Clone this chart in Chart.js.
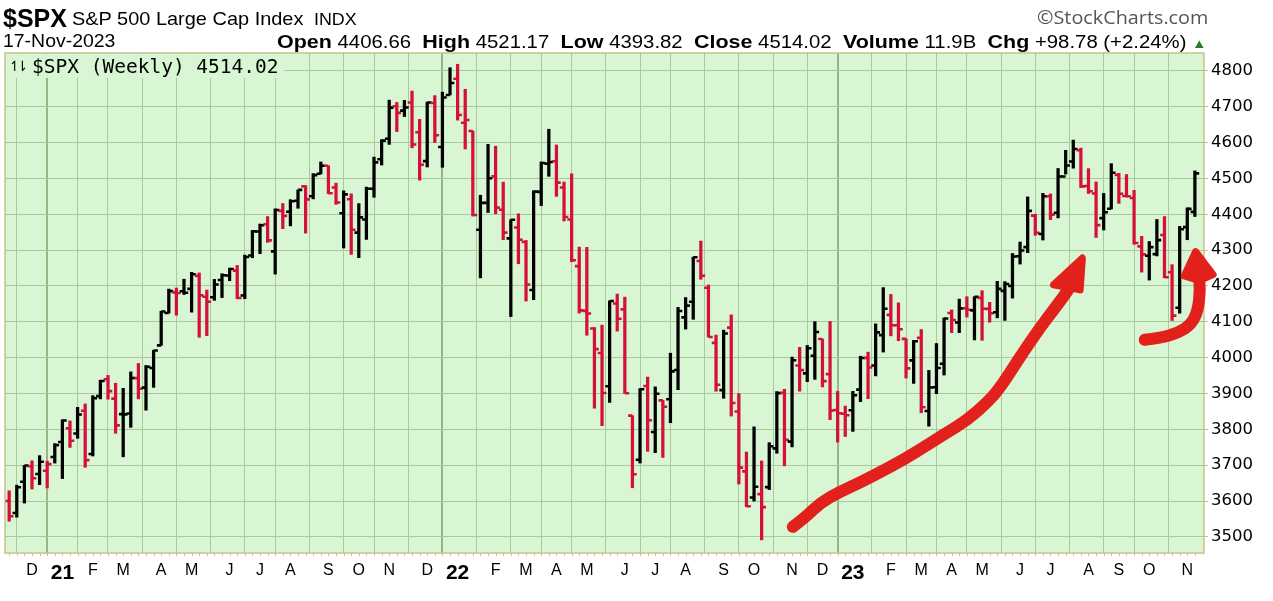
<!DOCTYPE html>
<html lang="en">
  <head>
    <meta charset="UTF-8" />
    <title>$SPX Weekly | StockCharts</title>
    <script src="https://cdn.jsdelivr.net/npm/chart.js"></script>
    <style>
      body { margin: 0; background: #fff; }
      #wrap { position: relative; width: 1273px; height: 601px; overflow: hidden; }
      #spxChart { position: absolute; left: 0; top: 0; }
      .txt {
        position: absolute;
        white-space: nowrap;
        line-height: 1;
        color: #000;
        font-family: "Liberation Sans", Arial, sans-serif;
        transform-origin: 0 0;
      }
      #sym { left: 3px; top: 6px; font-size: 25px; font-weight: bold; }
      #name { left: 72px; top: 9px; font-size: 19px; transform: scaleX(1.05); }
      #name small { font-size: 17px; margin-left: 10px; }
      #brand { left: 1037px; top: 8px; font-size: 18px; color: #555; font-family: "Open Sans", sans-serif; transform: scaleX(1.1); }
      #date { left: 3px; top: 32px; font-size: 18px; transform: scaleX(1.08); }
      #quote { left: 277px; top: 32px; font-size: 18px; transform: scaleX(1.13); }
      #quote b { font-size: 19px; }
      #quote .up { color: #2d7a2d; font-size: 13px; }
      #legend {
        left: 6px; top: 54px; width: 278px; height: 24px;
        background: #d8f6d4;
      }
      #legend .ico { font-family: "DejaVu Sans", sans-serif; font-size: 14px; position: absolute; left: 3px; top: 5px; letter-spacing: -4px; }
      #legend .mono { font-family: "DejaVu Sans Mono", monospace; font-size: 19.5px; position: absolute; left: 26px; top: 3px; }
    </style>
  </head>
  <body>
    <div id="wrap">
      <canvas id="spxChart" width="1273" height="601"></canvas>
      <div id="sym" class="txt">$SPX</div>
      <div id="name" class="txt">S&amp;P 500 Large Cap Index<small>INDX</small></div>
      <div id="brand" class="txt">©StockCharts.com</div>
      <div id="date" class="txt">17-Nov-2023</div>
      <div id="quote" class="txt">
        <b>Open</b> 4406.66&nbsp; <b>High</b> 4521.17&nbsp; <b>Low</b> 4393.82&nbsp;
        <b>Close</b> 4514.02&nbsp; <b>Volume</b> 11.9B&nbsp; <b>Chg</b> +98.78 (+2.24%)
        <span class="up">▲</span>
      </div>
      <div id="legend" class="txt">
        <span class="ico">↿⇂</span><span class="mono">$SPX (Weekly) 4514.02</span>
      </div>
    </div>

    <script>
      // weekly bars, first one is the week ending Fri 20-Nov-2020, last 17-Nov-2023
      const firstWeekEnd = new Date(2020, 10, 20);
      const prevClose = 3585.15; // close of week ending 13-Nov-2020, sets first bar colour

      const opens = [
        3600.2, 3566.8, 3653.8, 3697.1, 3675.3, 3684.3, 3723.0,
        3764.6, 3803.1, 3788.5, 3851.9, 3731.2, 3892.6, 3939.6, 3885.6, 3842.5, 3844.4, 3943.0, 3916.5,
        3971.1, 4034.4, 4124.7, 4182.2, 4185.1, 4191.9, 4228.3, 4169.9, 4168.6, 4216.5, 4229.3, 4242.9,
        4173.4, 4284.9, 4352.1, 4372.4, 4296.4, 4409.6, 4406.9, 4437.8, 4477.9, 4450.3, 4513.0, 4535.4,
        4474.8, 4402.9, 4442.0, 4348.8, 4385.4, 4471.4, 4553.7, 4610.6, 4701.5, 4689.3, 4712.0, 4628.8,
        4548.4, 4710.3, 4587.9, 4733.0,
        4778.1, 4655.3, 4632.2, 4357.0, 4431.8, 4505.8, 4412.6, 4332.7, 4363.1, 4322.6, 4188.8, 4462.4,
        4541.1, 4547.9, 4474.7, 4385.6, 4255.3, 4130.6, 4081.3, 4013.0, 3920.2, 4151.1, 4134.7, 3838.2,
        3715.3, 3920.8, 3792.6, 3880.9, 3883.8, 3965.7, 4112.4, 4155.9, 4269.7, 4195.1, 4041.3, 3909.4,
        4083.7, 3849.9, 3682.7, 3609.8, 3619.3, 3638.7, 3746.8, 3901.8, 3765.7, 3978.0, 3956.2, 4005.4,
        4052.0, 3954.2, 3853.8, 3843.3,
        3853.3, 3910.8, 3999.3, 3978.1, 4063.0, 4119.5, 4090.4, 4052.4, 3992.4, 4055.2, 3851.2, 3917.5,
        3982.9, 4124.5, 4098.0, 4138.0, 4132.0, 4166.8, 4136.1, 4126.7, 4186.4, 4200.2, 4283.0, 4308.3,
        4396.4, 4344.9, 4450.5, 4404.5, 4505.4, 4547.4, 4578.8, 4478.9, 4458.1, 4389.4, 4415.3, 4510.1,
        4451.2, 4445.4, 4310.6, 4284.5, 4289.0, 4342.4, 4238.5, 4139.4, 4364.3, 4406.66
      ];
      const highs = [
        3628.5, 3644.3, 3699.2, 3712.4, 3726.7, 3711.2, 3760.2,
        3826.7, 3823.6, 3861.5, 3870.9, 3894.0, 3937.0, 3950.4, 3928.6, 3914.5, 3960.3, 3983.9, 3978.2,
        4020.6, 4129.5, 4191.3, 4194.2, 4218.8, 4238.0, 4236.4, 4188.7, 4218.4, 4234.1, 4249.7, 4257.2,
        4286.1, 4355.0, 4372.9, 4393.7, 4415.2, 4430.0, 4440.8, 4468.0, 4480.3, 4513.4, 4545.9, 4535.4,
        4486.9, 4465.4, 4457.0, 4429.9, 4475.8, 4559.7, 4608.1, 4718.5, 4712.0, 4717.8, 4743.8, 4665.0,
        4713.0, 4731.1, 4740.7, 4808.9,
        4818.6, 4748.8, 4632.2, 4453.2, 4595.3, 4590.0, 4489.6, 4385.0, 4401.5, 4327.0, 4465.4, 4546.0,
        4637.3, 4593.5, 4490.0, 4512.9, 4308.4, 4307.7, 4084.0, 4090.7, 4158.5, 4177.5, 4168.8, 3838.2,
        3913.7, 3945.9, 3918.5, 3880.9, 4012.4, 4140.2, 4167.7, 4280.5, 4325.3, 4203.0, 4063.0, 4076.8,
        4119.3, 3899.9, 3736.7, 3806.9, 3711.8, 3762.8, 3905.4, 3911.8, 4001.5, 4028.8, 4034.0, 4100.5,
        4052.0, 4101.0, 3905.9, 3865.0,
        3906.0, 4004.0, 4015.4, 4094.2, 4195.4, 4176.5, 4153.0, 4052.4, 4048.3, 4078.5, 3964.5, 4039.5,
        4110.8, 4133.1, 4163.2, 4170.1, 4170.1, 4186.9, 4154.3, 4212.9, 4212.1, 4290.7, 4322.6, 4448.5,
        4400.2, 4458.5, 4456.5, 4527.8, 4578.4, 4607.1, 4584.6, 4527.4, 4490.3, 4458.3, 4541.3, 4514.3,
        4511.0, 4466.9, 4338.5, 4324.1, 4385.5, 4393.6, 4259.4, 4366.2, 4418.0, 4521.17
      ];
      const lows = [
        3543.7, 3555.0, 3594.4, 3633.4, 3645.8, 3636.5, 3705.8,
        3662.7, 3749.6, 3775.0, 3694.1, 3725.6, 3884.9, 3884.1, 3789.0, 3723.3, 3805.6, 3885.0, 3853.5,
        3917.1, 4034.4, 4124.4, 4118.4, 4176.2, 4127.0, 4056.9, 4061.4, 4160.0, 4167.6, 4214.6, 4164.4,
        4164.4, 4278.7, 4290.0, 4321.7, 4233.1, 4360.0, 4367.7, 4416.8, 4347.5, 4443.0, 4513.0, 4457.7,
        4427.8, 4305.9, 4288.0, 4279.0, 4329.9, 4447.5, 4537.4, 4595.1, 4630.9, 4672.8, 4585.4, 4495.1,
        4532.0, 4600.2, 4531.1, 4733.0,
        4662.7, 4582.2, 4395.3, 4222.6, 4405.0, 4401.4, 4329.1, 4114.7, 4262.0, 4157.9, 4161.7, 4424.3,
        4506.0, 4450.0, 4381.3, 4267.6, 4124.3, 4062.5, 3858.9, 3810.3, 3875.1, 4074.0, 3900.2, 3636.9,
        3706.0, 3738.7, 3735.0, 3721.6, 3818.6, 3910.7, 4079.8, 4107.0, 4218.7, 4057.7, 3906.2, 3886.8,
        3837.1, 3647.5, 3584.1, 3600.0, 3491.6, 3632.0, 3733.3, 3698.2, 3751.0, 3906.5, 3933.0, 3939.5,
        3918.4, 3827.1, 3764.5, 3780.0,
        3794.3, 3877.3, 3885.5, 3949.1, 4015.6, 4060.8, 4047.3, 3943.1, 3928.2, 3846.3, 3808.9, 3899.4,
        3951.5, 4069.8, 4069.8, 4113.1, 4049.4, 4048.3, 4098.9, 4111.0, 4104.0, 4166.2, 4261.1, 4293.0,
        4341.3, 4328.1, 4385.0, 4389.9, 4512.0, 4528.6, 4474.6, 4458.0, 4335.3, 4356.3, 4415.0, 4430.5,
        4448.4, 4316.5, 4238.6, 4216.5, 4283.8, 4223.0, 4103.8, 4124.0, 4329.0, 4393.82
      ];
      const closes = [
        3557.5, 3638.4, 3699.1, 3663.5, 3709.4, 3703.1, 3756.1,
        3824.7, 3768.3, 3841.5, 3714.2, 3886.8, 3934.8, 3906.7, 3811.2, 3841.9, 3943.3, 3913.1, 3974.5,
        4019.9, 4128.8, 4185.5, 4180.2, 4181.2, 4232.6, 4173.9, 4155.9, 4204.1, 4229.9, 4247.4, 4166.5,
        4280.7, 4352.3, 4369.6, 4327.2, 4411.8, 4395.3, 4436.5, 4468.0, 4441.7, 4509.4, 4535.4, 4458.6,
        4433.0, 4455.5, 4357.0, 4391.3, 4471.4, 4544.9, 4605.4, 4697.5, 4682.9, 4698.0, 4594.6, 4538.4,
        4712.0, 4620.6, 4725.8, 4766.2,
        4677.0, 4662.9, 4397.9, 4431.9, 4500.5, 4418.6, 4348.9, 4384.7, 4328.9, 4204.3, 4463.1, 4543.1,
        4545.9, 4488.3, 4392.6, 4271.8, 4131.9, 4123.3, 4023.9, 3901.4, 4158.2, 4108.5, 3900.9, 3674.8,
        3911.7, 3825.3, 3899.4, 3863.2, 3961.6, 4130.3, 4145.2, 4280.2, 4228.5, 4057.7, 3924.3, 4067.4,
        3873.3, 3693.2, 3585.6, 3639.7, 3583.1, 3752.8, 3901.1, 3770.6, 3992.9, 3965.3, 4026.1, 4071.7,
        3934.4, 3852.4, 3844.8, 3839.5,
        3895.1, 3999.1, 3972.6, 4070.6, 4136.5, 4090.5, 4079.1, 3970.0, 4045.6, 3861.6, 3916.6, 3971.0,
        4109.3, 4105.0, 4137.6, 4133.5, 4169.5, 4136.3, 4124.1, 4192.0, 4205.5, 4282.4, 4298.9, 4409.6,
        4348.3, 4450.4, 4399.0, 4505.4, 4536.3, 4582.2, 4478.0, 4464.1, 4369.7, 4405.7, 4515.8, 4457.5,
        4450.3, 4320.1, 4288.1, 4308.5, 4327.8, 4224.2, 4117.4, 4358.3, 4415.2, 4514.02
      ];

      const priceTicks = [3500, 3600, 3700, 3800, 3900, 4000, 4100, 4200, 4300, 4400, 4500, 4600, 4700, 4800];
      const monthLetters = ["J", "F", "M", "A", "M", "J", "J", "A", "S", "O", "N", "D"];

      // hand drawn arrows on the original, in (week index, price)
      const trendArrow = [
        [103.1, 3528], [104.7, 3553], [106.7, 3595], [109.3, 3626], [111.9, 3651], [115.9, 3695],
        [119.4, 3737], [122.9, 3785], [126.1, 3826], [128.7, 3876], [130.4, 3916], [133.0, 4002],
        [135.6, 4083], [137.9, 4147], [139.3, 4188]
      ];
      const trendArrowHead = [[137.4, 4203], [141.2, 4278], [140.9, 4189]];
      const reboundArrow = [
        [149.4, 4050], [151.4, 4055], [153.8, 4069], [155.6, 4094], [156.4, 4133], [156.7, 4189], [156.5, 4232]
      ];
      const reboundArrowHead = [[154.6, 4228], [156.1, 4296], [158.4, 4232], [156.6, 4215]];

      const UP = "#000000";
      const DOWN = "#d5103a";
      const PLOT_BG = "#d8f6d4";
      const GRID = "#abc998";
      const GRID_YEAR = "#98b683";
      const FRAME = "#c9c08c";

      const barColors = closes.map((c, i) => (c >= (i ? closes[i - 1] : prevClose) ? UP : DOWN));

      // a month line goes on the first week whose Monday falls in the new month
      function monthTicks() {
        const out = [];
        let prev = null;
        for (let i = 0; i < closes.length; i++) {
          const monday = new Date(firstWeekEnd);
          monday.setDate(monday.getDate() + 7 * i - 4);
          const m = monday.getMonth();
          if (prev !== null && m !== prev) {
            out.push({ value: i, major: m === 0, year: monday.getFullYear(), month: m });
          }
          prev = m;
        }
        return out;
      }
      const xTicks = monthTicks();

      const plotFrame = {
        id: "plotFrame",
        beforeDraw(chart) {
          const { ctx, chartArea: a } = chart;
          ctx.save();
          ctx.fillStyle = PLOT_BG;
          ctx.fillRect(a.left, a.top, a.width, a.height);
          ctx.restore();
        },
        afterDraw(chart) {
          const { ctx, chartArea: a } = chart;
          ctx.save();
          ctx.strokeStyle = FRAME;
          ctx.lineWidth = 1.5;
          ctx.strokeRect(a.left, a.top, a.width, a.height);
          // little week marks under the bottom edge
          const x = chart.scales.x;
          ctx.lineWidth = 1;
          ctx.beginPath();
          for (let i = 0; i < closes.length; i++) {
            const px = Math.round(x.getPixelForValue(i)) + 0.5;
            ctx.moveTo(px, a.bottom);
            ctx.lineTo(px, a.bottom + 3);
          }
          ctx.stroke();
          ctx.restore();
        },
      };

      const ohlcTicks = {
        id: "ohlcTicks",
        afterDatasetsDraw(chart) {
          const { ctx, scales: { x, y } } = chart;
          ctx.save();
          ctx.lineWidth = 2.6;
          closes.forEach((c, i) => {
            const px = x.getPixelForValue(i);
            const yo = y.getPixelForValue(opens[i]);
            const yc = y.getPixelForValue(c);
            ctx.strokeStyle = barColors[i];
            ctx.beginPath();
            ctx.moveTo(px - 4.3, yo);
            ctx.lineTo(px, yo);
            ctx.moveTo(px, yc);
            ctx.lineTo(px + 4.3, yc);
            ctx.stroke();
          });
          ctx.restore();
        },
      };

      function strokeSmooth(ctx, pts) {
        ctx.beginPath();
        ctx.moveTo(pts[0][0], pts[0][1]);
        for (let i = 1; i < pts.length - 1; i++) {
          const mx = (pts[i][0] + pts[i + 1][0]) / 2;
          const my = (pts[i][1] + pts[i + 1][1]) / 2;
          ctx.quadraticCurveTo(pts[i][0], pts[i][1], mx, my);
        }
        const last = pts[pts.length - 1];
        ctx.lineTo(last[0], last[1]);
        ctx.stroke();
      }

      const arrows = {
        id: "arrows",
        afterDraw(chart) {
          const { ctx, scales: { x, y } } = chart;
          const toPx = (p) => [x.getPixelForValue(p[0]), y.getPixelForValue(p[1])];
          ctx.save();
          ctx.strokeStyle = "#e2201c";
          ctx.fillStyle = "#e2201c";
          ctx.lineCap = "round";
          ctx.lineJoin = "round";
          [[trendArrow, trendArrowHead], [reboundArrow, reboundArrowHead]].forEach(([line, head]) => {
            ctx.lineWidth = 12;
            strokeSmooth(ctx, line.map(toPx));
            const h = head.map(toPx);
            ctx.lineWidth = 7;
            ctx.beginPath();
            h.forEach((p, i) => (i ? ctx.lineTo(p[0], p[1]) : ctx.moveTo(p[0], p[1])));
            ctx.closePath();
            ctx.fill();
            ctx.stroke();
          });
          ctx.restore();
        },
      };

      new Chart(document.getElementById("spxChart"), {
        type: "bar",
        data: {
          datasets: [
            {
              data: closes.map((c, i) => ({ x: i, y: [lows[i], highs[i]] })),
              backgroundColor: barColors,
              borderWidth: 0,
              barThickness: 2.6,
            },
          ],
        },
        options: {
          responsive: false,
          animation: false,
          devicePixelRatio: 1,
          layout: { padding: { left: 5, top: 53, right: 0, bottom: 0 } },
          plugins: { legend: { display: false }, tooltip: { enabled: false } },
          scales: {
            x: {
              type: "linear",
              min: -0.55,
              max: 157.2,
              offset: false,
              afterBuildTicks: (s) => {
                s.ticks = xTicks.map((t) => ({ ...t }));
              },
              afterFit: (s) => {
                s.height = 48;
              },
              border: { display: false },
              grid: {
                drawTicks: false,
                color: (ctx) => (ctx.tick && ctx.tick.major ? GRID_YEAR : GRID),
                lineWidth: (ctx) => (ctx.tick && ctx.tick.major ? 2 : 1),
              },
              ticks: {
                autoSkip: false,
                maxRotation: 0,
                padding: 8,
                color: "#000",
                font: (ctx) =>
                  ctx.tick && ctx.tick.major
                    ? { family: "'Liberation Sans Narrow', 'Liberation Sans'", size: 21, weight: "bold" }
                    : { family: "'Liberation Sans Narrow', 'Liberation Sans'", size: 16 },
                callback: (v) => {
                  const t = xTicks.find((k) => k.value === v);
                  if (!t) return "";
                  return t.month === 0 ? String(t.year).slice(2) : monthLetters[t.month];
                },
              },
            },
            y: {
              position: "right",
              min: 3455,
              max: 4850,
              afterBuildTicks: (s) => {
                s.ticks = priceTicks.map((v) => ({ value: v }));
              },
              afterFit: (s) => {
                s.width = 69;
              },
              border: { display: false },
              grid: { color: GRID, tickColor: FRAME, tickLength: 4 },
              ticks: {
                padding: 3,
                color: "#000",
                font: { family: "'DejaVu Sans'", size: 16.5 },
                callback: (v) => String(v),
              },
            },
          },
        },
        plugins: [plotFrame, ohlcTicks, arrows],
      });
    </script>
  </body>
</html>
